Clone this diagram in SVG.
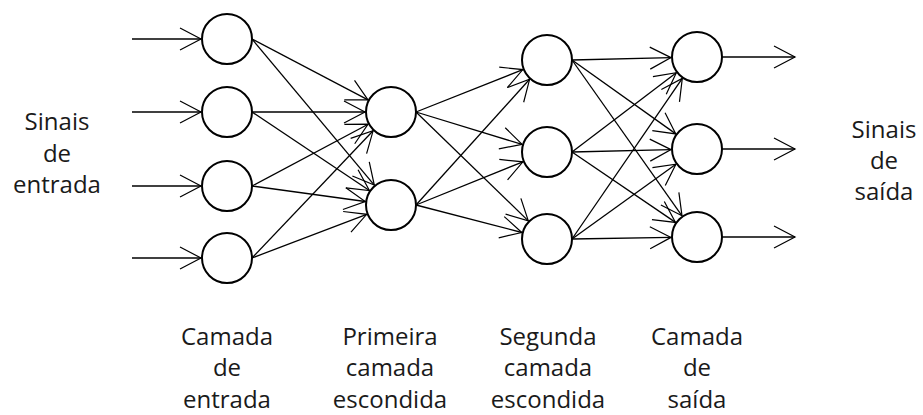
<svg xmlns="http://www.w3.org/2000/svg" width="923" height="415" viewBox="0 0 923 415">
<style>
.node{fill:#fff;stroke:#000;stroke-width:2}
.edge{stroke:#000;stroke-width:1.3;fill:none;marker-end:url(#arr)}
.lbl{font-family:"Open Sans","Liberation Sans",sans-serif;font-size:24px;fill:#1a1a1a;text-anchor:middle}
</style>
<defs>
<marker id="arr" markerUnits="userSpaceOnUse" markerWidth="26" markerHeight="26" refX="22" refY="12" orient="auto" viewBox="0 0 26 24">
<path d="M1,1 L22,12 L1,23" fill="none" stroke="#000" stroke-width="1.2"/>
</marker>
</defs>
<rect width="923" height="415" fill="#fff"/>
<g id="connectors">
<line class="edge" x1="132" y1="39" x2="201" y2="39"/>
<line class="edge" x1="132" y1="112" x2="201" y2="112"/>
<line class="edge" x1="132" y1="186" x2="201" y2="186"/>
<line class="edge" x1="132" y1="258" x2="201" y2="258"/>
<line class="edge" x1="252" y1="39" x2="368" y2="99.9"/>
<line class="edge" x1="252" y1="39" x2="374.3" y2="185.1"/>
<line class="edge" x1="252" y1="112" x2="365" y2="112"/>
<line class="edge" x1="252" y1="112" x2="369.4" y2="190.5"/>
<line class="edge" x1="252" y1="186" x2="368.1" y2="124.2"/>
<line class="edge" x1="252" y1="186" x2="365.2" y2="201.5"/>
<line class="edge" x1="252" y1="258" x2="373.1" y2="130.8"/>
<line class="edge" x1="252" y1="258" x2="366.7" y2="214.3"/>
<line class="edge" x1="416" y1="112" x2="522.8" y2="69.6"/>
<line class="edge" x1="416" y1="112" x2="522.1" y2="144.4"/>
<line class="edge" x1="416" y1="112" x2="528.3" y2="220.9"/>
<line class="edge" x1="416" y1="205" x2="529.6" y2="79.3"/>
<line class="edge" x1="416" y1="205" x2="522.9" y2="161.8"/>
<line class="edge" x1="416" y1="205" x2="521.8" y2="232.5"/>
<line class="edge" x1="572" y1="60" x2="671" y2="57.6"/>
<line class="edge" x1="572" y1="60" x2="675.8" y2="133.9"/>
<line class="edge" x1="572" y1="60" x2="682" y2="215.8"/>
<line class="edge" x1="572" y1="152" x2="676.3" y2="72.7"/>
<line class="edge" x1="572" y1="152" x2="671" y2="149.6"/>
<line class="edge" x1="572" y1="152" x2="675.5" y2="222.4"/>
<line class="edge" x1="572" y1="239" x2="682.3" y2="78.4"/>
<line class="edge" x1="572" y1="239" x2="675.9" y2="164.2"/>
<line class="edge" x1="572" y1="239" x2="671" y2="237.4"/>
<line class="edge" x1="722" y1="57" x2="795" y2="57"/>
<line class="edge" x1="722" y1="149" x2="795" y2="149"/>
<line class="edge" x1="722" y1="237" x2="795" y2="237"/>
</g>
<g id="in1"><circle class="node" cx="227" cy="39" r="25"/></g>
<g id="in2"><circle class="node" cx="227" cy="112" r="25"/></g>
<g id="in3"><circle class="node" cx="227" cy="186" r="25"/></g>
<g id="in4"><circle class="node" cx="227" cy="258" r="25"/></g>
<g id="h1a"><circle class="node" cx="391" cy="112" r="25"/></g>
<g id="h1b"><circle class="node" cx="391" cy="205" r="25"/></g>
<g id="h2a"><circle class="node" cx="547" cy="60" r="25"/></g>
<g id="h2b"><circle class="node" cx="547" cy="152" r="25"/></g>
<g id="h2c"><circle class="node" cx="547" cy="239" r="25"/></g>
<g id="out1"><circle class="node" cx="697" cy="57" r="25"/></g>
<g id="out2"><circle class="node" cx="697" cy="149" r="25"/></g>
<g id="out3"><circle class="node" cx="697" cy="237" r="25"/></g>
<g id="label-in">
<text class="lbl" x="57" y="130">Sinais</text>
<text class="lbl" x="57" y="162">de</text>
<text class="lbl" x="57" y="193">entrada</text>
</g>
<g id="label-out">
<text class="lbl" x="884" y="138">Sinais</text>
<text class="lbl" x="884" y="169">de</text>
<text class="lbl" x="884" y="200">saída</text>
</g>
<g id="label-l1">
<text class="lbl" x="227" y="345">Camada</text>
<text class="lbl" x="227" y="376">de</text>
<text class="lbl" x="227" y="408">entrada</text>
</g>
<g id="label-l2">
<text class="lbl" x="390" y="345">Primeira</text>
<text class="lbl" x="390" y="376">camada</text>
<text class="lbl" x="390" y="408">escondida</text>
</g>
<g id="label-l3">
<text class="lbl" x="548" y="345">Segunda</text>
<text class="lbl" x="548" y="376">camada</text>
<text class="lbl" x="548" y="408">escondida</text>
</g>
<g id="label-l4">
<text class="lbl" x="697" y="345">Camada</text>
<text class="lbl" x="697" y="376">de</text>
<text class="lbl" x="697" y="408">saída</text>
</g>
</svg>
